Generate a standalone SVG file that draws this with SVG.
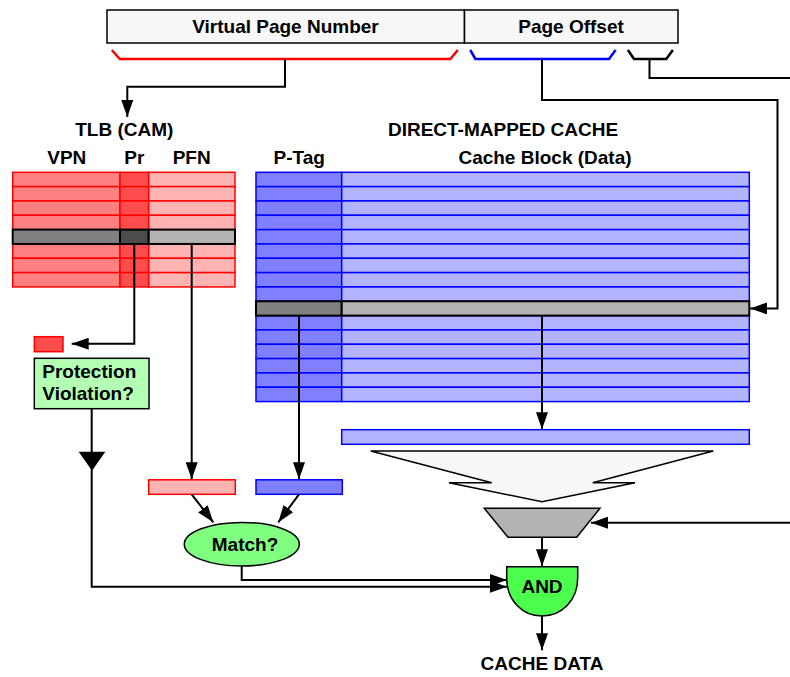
<svg xmlns="http://www.w3.org/2000/svg" width="790" height="677" viewBox="0 0 790 677">
<style>
text{font-family:"Liberation Sans",Arial,Helvetica,sans-serif;font-weight:bold;font-size:19px;fill:#000}
.c{text-anchor:middle}
.ln{fill:none;stroke:#000;stroke-width:2}
.vpn{fill:#ff8080;stroke:#ff0000;stroke-width:1.5}
.pr{fill:#ff4c4c;stroke:#ff0000;stroke-width:1.5}
.pfn{fill:#ffb3b3;stroke:#ff0000;stroke-width:1.5}
.tag{fill:#8080ff;stroke:#0000ff;stroke-width:1.5}
.dat{fill:#b3b3ff;stroke:#0000ff;stroke-width:1.5}
.s1{fill:#808080;stroke:#000;stroke-width:2}
.s2{fill:#4c4c4c;stroke:#000;stroke-width:2}
.s3{fill:#b3b3b3;stroke:#000;stroke-width:2}
</style>
<defs>
<marker id="ah" markerUnits="userSpaceOnUse" markerWidth="18" markerHeight="12" viewBox="0 0 18 12" refX="17" refY="6" orient="auto">
<path d="M0,0 L17,6 L0,12 z" fill="#000"/>
</marker>
</defs>

<g id="address">
<rect x="107" y="10" width="357.5" height="33" fill="#f7f7f7" stroke="#000" stroke-width="1.5"/>
<rect x="464.5" y="10" width="213.5" height="33" fill="#f7f7f7" stroke="#000" stroke-width="1.5"/>
<text class="c" x="285.5" y="32.5">Virtual Page Number</text>
<text class="c" x="571" y="32.5">Page Offset</text>
</g>

<g id="brackets">
<polyline points="111.8,50 119.8,59 450.3,59 457.8,50" fill="none" stroke="#ff0000" stroke-width="2.5"/>
<polyline points="470.2,50 475.4,59 609,59 615.6,50" fill="none" stroke="#0000ff" stroke-width="2.5"/>
<polyline points="627.9,50 634,59 666.3,59 672.9,50" fill="none" stroke="#000" stroke-width="2.5"/>
</g>

<g id="labels">
<text class="c" x="124.3" y="135.7">TLB (CAM)</text>
<text class="c" x="503" y="135.7">DIRECT-MAPPED CACHE</text>
<text class="c" x="66.8" y="164">VPN</text>
<text class="c" x="134.3" y="164">Pr</text>
<text class="c" x="191.7" y="164">PFN</text>
<text class="c" x="299.2" y="164">P-Tag</text>
<text class="c" x="545" y="164">Cache Block (Data)</text>
</g>

<g id="tlb">
<rect class="vpn" x="12.7" y="172.3" width="107.3" height="14.33"/><rect class="pr" x="120" y="172.3" width="28.7" height="14.33"/><rect class="pfn" x="148.7" y="172.3" width="86.3" height="14.33"/>
<rect class="vpn" x="12.7" y="186.63" width="107.3" height="14.33"/><rect class="pr" x="120" y="186.63" width="28.7" height="14.33"/><rect class="pfn" x="148.7" y="186.63" width="86.3" height="14.33"/>
<rect class="vpn" x="12.7" y="200.96" width="107.3" height="14.33"/><rect class="pr" x="120" y="200.96" width="28.7" height="14.33"/><rect class="pfn" x="148.7" y="200.96" width="86.3" height="14.33"/>
<rect class="vpn" x="12.7" y="215.29" width="107.3" height="14.33"/><rect class="pr" x="120" y="215.29" width="28.7" height="14.33"/><rect class="pfn" x="148.7" y="215.29" width="86.3" height="14.33"/>
<rect class="vpn" x="12.7" y="243.95" width="107.3" height="14.33"/><rect class="pr" x="120" y="243.95" width="28.7" height="14.33"/><rect class="pfn" x="148.7" y="243.95" width="86.3" height="14.33"/>
<rect class="vpn" x="12.7" y="258.28" width="107.3" height="14.33"/><rect class="pr" x="120" y="258.28" width="28.7" height="14.33"/><rect class="pfn" x="148.7" y="258.28" width="86.3" height="14.33"/>
<rect class="vpn" x="12.7" y="272.61" width="107.3" height="14.33"/><rect class="pr" x="120" y="272.61" width="28.7" height="14.33"/><rect class="pfn" x="148.7" y="272.61" width="86.3" height="14.33"/>
<rect class="s1" x="12.7" y="229.62" width="107.3" height="14.33"/><rect class="s2" x="120" y="229.62" width="28.7" height="14.33"/><rect class="s3" x="148.7" y="229.62" width="86.3" height="14.33"/>
</g>

<g id="cache">
<rect class="tag" x="256" y="172.3" width="85.7" height="14.33"/><rect class="dat" x="341.7" y="172.3" width="407.6" height="14.33"/>
<rect class="tag" x="256" y="186.63" width="85.7" height="14.33"/><rect class="dat" x="341.7" y="186.63" width="407.6" height="14.33"/>
<rect class="tag" x="256" y="200.96" width="85.7" height="14.33"/><rect class="dat" x="341.7" y="200.96" width="407.6" height="14.33"/>
<rect class="tag" x="256" y="215.29" width="85.7" height="14.33"/><rect class="dat" x="341.7" y="215.29" width="407.6" height="14.33"/>
<rect class="tag" x="256" y="229.62" width="85.7" height="14.33"/><rect class="dat" x="341.7" y="229.62" width="407.6" height="14.33"/>
<rect class="tag" x="256" y="243.95" width="85.7" height="14.33"/><rect class="dat" x="341.7" y="243.95" width="407.6" height="14.33"/>
<rect class="tag" x="256" y="258.28" width="85.7" height="14.33"/><rect class="dat" x="341.7" y="258.28" width="407.6" height="14.33"/>
<rect class="tag" x="256" y="272.61" width="85.7" height="14.33"/><rect class="dat" x="341.7" y="272.61" width="407.6" height="14.33"/>
<rect class="tag" x="256" y="286.94" width="85.7" height="14.33"/><rect class="dat" x="341.7" y="286.94" width="407.6" height="14.33"/>
<rect class="tag" x="256" y="315.6" width="85.7" height="14.33"/><rect class="dat" x="341.7" y="315.6" width="407.6" height="14.33"/>
<rect class="tag" x="256" y="329.93" width="85.7" height="14.33"/><rect class="dat" x="341.7" y="329.93" width="407.6" height="14.33"/>
<rect class="tag" x="256" y="344.26" width="85.7" height="14.33"/><rect class="dat" x="341.7" y="344.26" width="407.6" height="14.33"/>
<rect class="tag" x="256" y="358.59" width="85.7" height="14.33"/><rect class="dat" x="341.7" y="358.59" width="407.6" height="14.33"/>
<rect class="tag" x="256" y="372.92" width="85.7" height="14.33"/><rect class="dat" x="341.7" y="372.92" width="407.6" height="14.33"/>
<rect class="tag" x="256" y="387.25" width="85.7" height="14.33"/><rect class="dat" x="341.7" y="387.25" width="407.6" height="14.33"/>
<rect class="s1" x="256" y="301.27" width="85.7" height="14.33"/><rect class="s3" x="341.7" y="301.27" width="407.6" height="14.33"/>
</g>

<g id="pr-bit"><rect x="34.3" y="336.7" width="28.7" height="15" fill="#ff4c4c" stroke="#ff0000" stroke-width="1.5"/></g>
<g id="protection">
<rect x="34.3" y="358.3" width="114.7" height="50.4" fill="#b3ffb3" stroke="#000" stroke-width="1.5"/>
<text x="42.3" y="377.5">Protection</text>
<text x="42.3" y="400.3">Violation?</text>
</g>
<g id="pfn-reg"><rect x="148.7" y="479.8" width="86.6" height="14.5" fill="#ffb3b3" stroke="#ff0000" stroke-width="1.5"/></g>
<g id="tag-reg"><rect x="256" y="479.8" width="86.3" height="14.5" fill="#8080ff" stroke="#0000ff" stroke-width="1.5"/></g>
<g id="data-reg"><rect x="341.7" y="429.7" width="407.6" height="14.6" fill="#b3b3ff" stroke="#0000ff" stroke-width="1.5"/></g>
<g id="funnel"><polygon points="370.7,451 713.3,451 592.7,482.7 635,482.7 542,501.7 449,482.7 491.7,482.7" fill="#f7f7f7" stroke="#000" stroke-width="1.5"/></g>
<g id="mux"><polygon points="484.3,508.3 600,508.3 576.7,537.3 508,537.3" fill="#b3b3b3" stroke="#000" stroke-width="1.5"/></g>
<g id="match">
<ellipse cx="241.8" cy="544.2" rx="57.5" ry="21.8" fill="#80ff80" stroke="#000" stroke-width="1.5"/>
<text class="c" x="245" y="550.8">Match?</text>
</g>
<g id="and">
<path d="M506.7,566.7 H577.7 V578 C577.7,600 562,616 542,616 C522,616 506.7,600 506.7,578 Z" fill="#4cff4c" stroke="#000" stroke-width="1.5"/>
<text class="c" x="542" y="592.5">AND</text>
</g>
<g id="output"><text class="c" x="542" y="670">CACHE DATA</text></g>

<g id="connectors">
<path class="ln" d="M285,59 V86.7 H127.3 V117" marker-end="url(#ah)"/>
<path class="ln" d="M542,59 V100 H777.5 V308.4 H750" marker-end="url(#ah)"/>
<path class="ln" d="M649.5,59 V78 H790"/>
<path class="ln" d="M790,522.7 H591" marker-end="url(#ah)"/>
<path class="ln" d="M134.3,244 V343.7 H71.7" marker-end="url(#ah)"/>
<path class="ln" d="M191.7,244 V479.3" marker-end="url(#ah)"/>
<path class="ln" d="M299,315.6 V479.3" marker-end="url(#ah)"/>
<path class="ln" d="M542,315.6 V429.2" marker-end="url(#ah)"/>
<path class="ln" d="M191.7,494.3 L213.3,522.3" marker-end="url(#ah)"/>
<path class="ln" d="M299,494.3 L278.3,522.3" marker-end="url(#ah)"/>
<path class="ln" d="M91.7,408.7 V586.7 H507" marker-end="url(#ah)"/>
<polygon points="78.7,451.7 105.3,451.7 92,470.7" fill="#000"/>
<path class="ln" d="M241.7,566 V580 H507" marker-end="url(#ah)"/>
<path class="ln" d="M542,537.3 V566.2" marker-end="url(#ah)"/>
<path class="ln" d="M542,616 V650.3" marker-end="url(#ah)"/>
</g>
</svg>
